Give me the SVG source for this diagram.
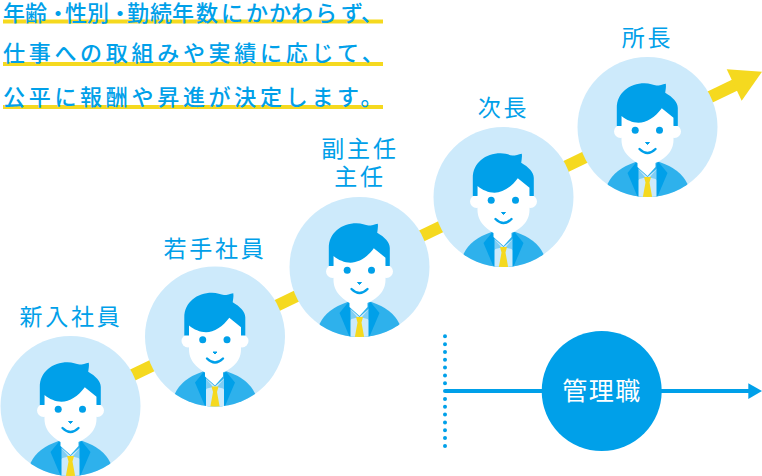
<svg xmlns="http://www.w3.org/2000/svg" width="762" height="476" viewBox="0 0 762 476">
<style>
text{font-family:"Noto Sans CJK JP","Noto Sans",sans-serif;font-weight:400}
.lead{font-size:22px;fill:#00a0e9;font-weight:500}
.spaced{letter-spacing:3.700px}
.role{font-size:23px;fill:#00a0e9;text-anchor:middle;letter-spacing:2.800px}
.hl{fill:#f5d91f}
</style>
<defs>
<clipPath id="cc"><circle r="70"/></clipPath>
<g id="person">
<circle r="70" fill="#cdeafb"/>
<g clip-path="url(#cc)">
<path d="M-40 57Q-33 42-12 35H12Q33 42 40 57L40 75H-40Z" fill="#2eb1ec"/>
<path d="M-10 41L0 50L10 41V72H-10Z" fill="#cdeafb"/>
<path d="M-10 41L-2 50.500L-8 52L-10 54Z" fill="#80cef4"/>
<path d="M10 41L2 50.500L8 52L10 54Z" fill="#80cef4"/>
<path d="M-20 46L-11 35L-9 37V72Z" fill="#00a0e9"/>
<path d="M20 46L11 35L9 37V72Z" fill="#00a0e9"/>
<path d="M-3.500 50H3.500L2 55.500L5 72H-5L-2 55.500Z" fill="#f5d91f"/>
</g>
<circle cx="-27" cy="4.500" r="6.500" fill="#fff"/>
<circle cx="27" cy="4.500" r="6.500" fill="#fff"/>
<path d="M-26 -25H26V13C26 27 13 34 8 36V40L0 49L-10 40V36C-13 34 -26 27 -26 13Z" fill="#fff"/>
<path d="M-30.700 -1V-19C-30.700-34-18-43.700-3-43.700C2-43.700 6-42 9-41.500C12-41.500 15-42.500 18.300-43.300C18.800-40 18-37 17.700-34.300C25-30 30.300-25 30.300-19V-1H26V-9.300L14.300-18.700C8-10-1-4.300-9-4.300C-15-4.300-21-7-26-11V-1Z" fill="#00a0e9"/>
<circle cx="-12.300" cy="3.300" r="3.500" fill="#00a0e9"/>
<circle cx="12" cy="3.300" r="3.500" fill="#00a0e9"/>
<path d="M-2 15.500H2L0 17.500Z" fill="#00a0e9" stroke="#00a0e9" stroke-linejoin="round"/>
<path d="M-8 22Q0 30 8 22" fill="none" stroke="#00a0e9" stroke-width="2.400" stroke-linecap="round"/>
</g>
</defs>
<g id="lead">
<rect class="hl" x="3" y="19.500" width="380" height="4"/>
<rect class="hl" x="3" y="62" width="380" height="4"/>
<rect class="hl" x="3" y="105" width="380" height="4"/>
<text class="lead" x="3 25 47 65 87 109 127 150 172 196 221 246 269 291 315 341 361" y="21">年齢・性別・勤続年数にかかわらず、</text>
<text class="lead spaced" x="3" y="61">仕事への取組みや実績に応じて、</text>
<text class="lead spaced" x="3" y="105">公平に報酬や昇進が決定します。</text>
</g>
<g id="connectors">
<path d="M60 410L735 85" fill="none" stroke="#f5d91f" stroke-width="12"/>
<path d="M726.700 69.300L762 71.700L741.700 100.700Z" fill="#f5d91f"/>
<path d="M445 391H750" fill="none" stroke="#00a0e9" stroke-width="4"/>
<path d="M748.300 383.300L762 391L748.300 399Z" fill="#00a0e9"/>
<path d="M445 336.300V447" fill="none" stroke="#00a0e9" stroke-width="4" stroke-linecap="round" stroke-dasharray="0 7.830"/>
</g>
<g id="node-shinnyu"><use href="#person" x="70.500" y="406"/><text class="role" x="71" y="325">新入社員</text></g>
<g id="node-wakate"><use href="#person" x="215" y="336.500"/><text class="role" x="215" y="257">若手社員</text></g>
<g id="node-fukushunin"><use href="#person" x="359.500" y="267"/><text class="role" x="360" y="157">副主任</text><text class="role" x="360" y="185">主任</text></g>
<g id="node-jicho"><use href="#person" x="503.500" y="197"/><text class="role" x="503.500" y="116">次長</text></g>
<g id="node-shocho"><use href="#person" x="647.500" y="127"/><text class="role" x="647.500" y="46">所長</text></g>
<g id="node-kanri"><circle cx="601.700" cy="391" r="60" fill="#00a0e9"/><text x="602" y="400" font-size="25" fill="#fff" text-anchor="middle" letter-spacing="1.500">管理職</text></g>
</svg>
